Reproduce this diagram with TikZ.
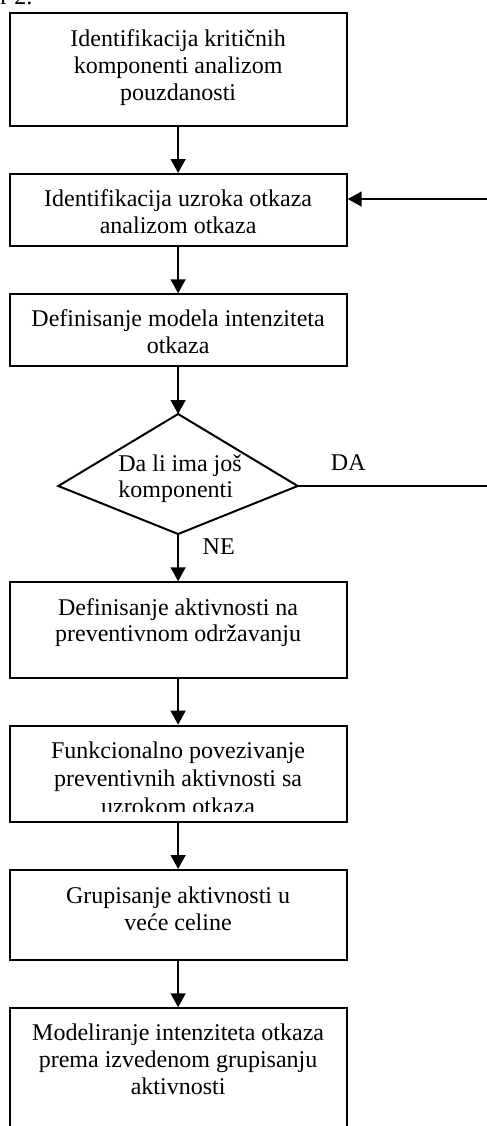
\documentclass[tikz,border=0pt]{standalone}
\usepackage{fontspec}
\setmainfont{Liberation Serif}
\usetikzlibrary{arrows.meta}
\begin{document}
\begin{tikzpicture}[x=0.5pt,y=-0.5pt,
  every node/.style={font=\fontsize{12}{13.35}\selectfont},
  box/.style={draw, line width=1pt, inner sep=0pt, minimum width=168.6pt},
  txt/.style={anchor=base, inner sep=0pt},
  lbl/.style={inner sep=0pt},
  line/.style={line width=1pt},
  arr/.style={line width=1pt, -{Triangle[length=7pt,width=7.4pt]}}]
\useasboundingbox (0,0) rectangle (487,1126);

% fragment of caption at top
\node[lbl, anchor=base west] (cap) at (0,4) {r 2.};

% boxes
\node[box, minimum height=56.2pt]  (b1) at (178.1,69.5) {};
\node[box, minimum height=35.85pt] (b2) at (178.1,209.85) {};
\node[box, minimum height=35.7pt]  (b3) at (178.1,330) {};
\node[box, minimum height=47.7pt]  (b4) at (178.1,630) {};
\node[box, minimum height=48pt]    (b5) at (178.1,773.7) {};
\node[box, minimum height=45pt]    (b6) at (178.1,915) {};
\node[box, minimum height=65.85pt] (b7) at (178.1,1074.15) {};

% texts
\node[txt] (t1) at (178.1,46.7) {\begin{tabular}[t]{@{}c@{}}Identifikacija kritičnih\\komponenti analizom\\pouzdanosti\end{tabular}};
\node[txt] (t2) at (178.1,206.7) {\begin{tabular}[t]{@{}c@{}}Identifikacija uzroka otkaza\\analizom otkaza\end{tabular}};
\node[txt] (t3) at (178.1,326.7) {\begin{tabular}[t]{@{}c@{}}Definisanje modela intenziteta\\otkaza\end{tabular}};
\node[txt] (t4) at (178.1,615) {\begin{tabular}[t]{@{}c@{}}Definisanje aktivnosti na\\preventivnom održavanju\end{tabular}};
\begin{scope}
\clip (0,725.7) rectangle (487,811.7);
\node[txt] (t5) at (178.1,758) {\begin{tabular}[t]{@{}c@{}}Funkcionalno povezivanje\\[0.65pt]preventivnih aktivnosti sa\\[0.65pt]uzrokom otkaza\end{tabular}};
\end{scope}
\node[txt] (t6) at (178.1,903.3) {\begin{tabular}[t]{@{}c@{}}Grupisanje aktivnosti u\\veće celine\end{tabular}};
\node[txt] (t7) at (178.1,1040.7) {\begin{tabular}[t]{@{}c@{}}Modeliranje intenziteta otkaza\\prema izvedenom grupisanju\\aktivnosti\end{tabular}};

% decision
\coordinate (dT) at (178.1,414);
\coordinate (dL) at (58.3,486);
\coordinate (dR) at (297.7,486);
\coordinate (dB) at (178.1,534);
\draw[line, line join=miter] (dT) -- (dR) -- (dB) -- (dL) -- cycle;
\node[lbl, anchor=base west] (dq) at (118,471) {\begin{tabular}[t]{@{}l@{}}Da li ima još\\komponenti\end{tabular}};
\node[lbl, anchor=base] (da) at (348.3,470.7) {DA};
\node[lbl, anchor=base west] (ne) at (202.3,554) {NE};

% connectors
\draw[arr] (b1.south) -- (b2.north);
\draw[arr] (b2.south) -- (b3.north);
\draw[arr] (b3.south) -- (dT);
\draw[arr] (dB) -- (b4.north);
\draw[arr] (b4.south) -- (b5.north);
\draw[arr] (b5.south) -- (b6.north);
\draw[arr] (b6.south) -- (b7.north);
\coordinate (fr) at (496,486);
\coordinate (fu) at (496,199);
\draw[arr] (dR) -- (fr) -- (fu) -- (fu -| b2.east);
\end{tikzpicture}
\end{document}
